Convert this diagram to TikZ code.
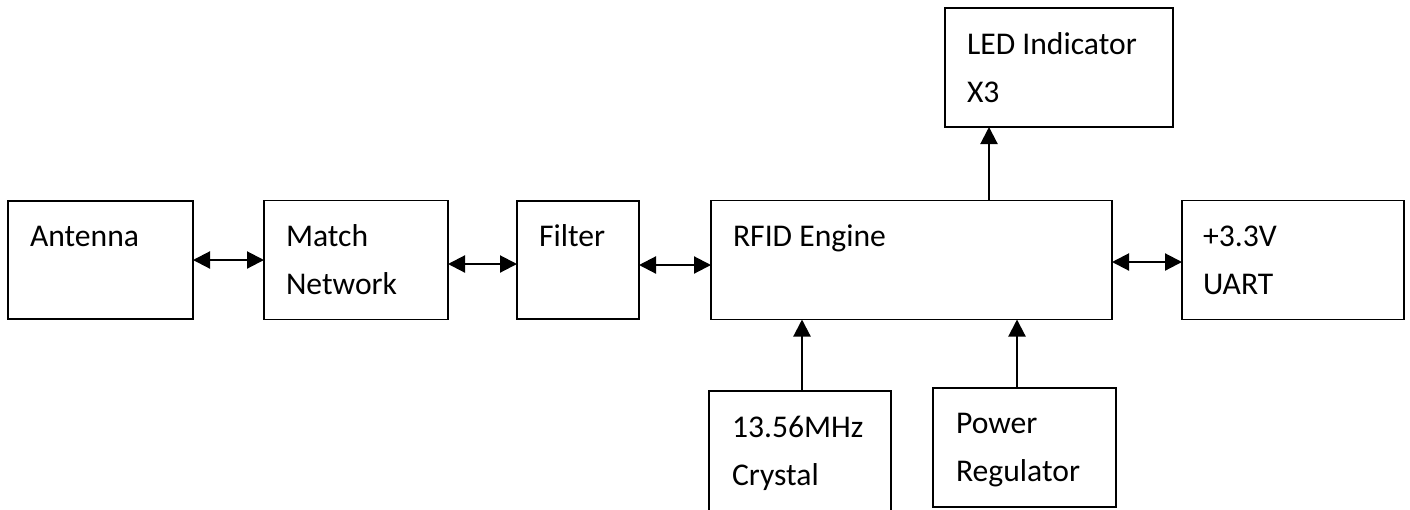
\documentclass[tikz,border=0pt]{standalone}
\usepackage{fontspec}
\setmainfont{Carlito}
\usetikzlibrary{positioning,arrows.meta}

\tikzset{
  box/.style={draw, line width=1.1pt, minimum height=2.38cm, inner sep=0pt, outer sep=0pt},
  txt/.style={anchor=base west, inner sep=0pt, font=\fontsize{18}{21}\selectfont},
  >={Triangle[length=0.34cm, width=0.34cm]}
}

\begin{document}
\begin{tikzpicture}[line width=1.2pt]
\useasboundingbox (0,0) rectangle (28.2,-10.18);

% main chain
\node[box, minimum width=3.7cm, minimum height=2.36cm] (ant) at (2.01,-5.2) {};
\node[box, minimum width=3.68cm, right=1.42cm of ant] (mat) {};
\node[box, minimum width=2.44cm, minimum height=2.36cm, right=1.38cm of mat] (fil) {};
\node[box, minimum width=8.02cm, right=1.44cm of fil] (rfid) {};
\node[box, minimum width=4.44cm, right=1.4cm of rfid] (uart) {};

% around the engine
\node[box, minimum width=4.56cm] (led) at (21.18,-1.35) {};
\node[box, minimum width=3.64cm, minimum height=2.4cm] (xtal) at (16.0,-9.02) {};
\node[box, minimum width=3.66cm] (pwr) at (20.49,-8.95) {};

% labels
\node[txt] (ant-t) at ([shift={(0.42,-0.91)}]ant.north west) {Antenna};
\node[txt] (mat-t1) at ([shift={(0.42,-0.91)}]mat.north west) {Match};
\node[txt] (mat-t2) at ([yshift=-0.96cm]mat-t1.base west) {Network};
\node[txt] (fil-t) at ([shift={(0.42,-0.91)}]fil.north west) {Filter};
\node[txt] (rfid-t) at ([shift={(0.42,-0.91)}]rfid.north west) {RFID Engine};
\node[txt] (uart-t1) at ([shift={(0.4,-0.92)}]uart.north west) {+3.3V};
\node[txt] (uart-t2) at ([yshift=-0.96cm]uart-t1.base west) {UART};
\node[txt] (led-t1) at ([shift={(0.42,-0.92)}]led.north west) {LED Indicator};
\node[txt] (led-t2) at ([yshift=-0.96cm]led-t1.base west) {X3};
\node[txt] (xtal-t1) at ([shift={(0.44,-0.92)}]xtal.north west) {13.56MHz};
\node[txt] (xtal-t2) at ([yshift=-0.96cm]xtal-t1.base west) {Crystal};
\node[txt] (pwr-t1) at ([shift={(0.44,-0.9)}]pwr.north west) {Power};
\node[txt] (pwr-t2) at ([yshift=-0.96cm]pwr-t1.base west) {Regulator};

% connectors
\draw[<->] (ant.east) -- (ant.east -| mat.west);
\draw[<->] ([yshift=-0.08cm]mat.east) -- ([yshift=-0.08cm]mat.east -| fil.west);
\draw[<->] ([yshift=-0.1cm]fil.east) -- ([yshift=-0.1cm]fil.east -| rfid.west);
\draw[<->] ([yshift=-0.04cm]rfid.east) -- ([yshift=-0.04cm]rfid.east -| uart.west);
\draw[->] ([xshift=1.55cm]rfid.north) -- ([xshift=1.55cm]rfid.north |- led.south);
\draw[->] ([xshift=0.04cm]xtal.north) -- ([xshift=0.04cm]xtal.north |- rfid.south);
\draw[->] ([xshift=-0.15cm]pwr.north) -- ([xshift=-0.15cm]pwr.north |- rfid.south);
\end{tikzpicture}
\end{document}
